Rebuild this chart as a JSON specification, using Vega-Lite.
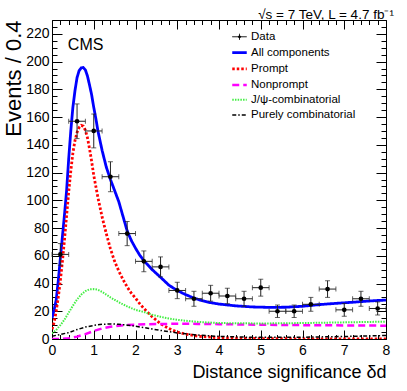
{
  "$schema": "https://vega.github.io/schema/vega-lite/v6.json",
  "width": 334,
  "height": 319,
  "autosize": "none",
  "padding": {"left": 52, "top": 20, "right": 21, "bottom": 52},
  "background": "white",
  "config": {
    "view": {"stroke": "black", "strokeWidth": 1},
    "font": "Liberation Sans",
    "axis": {"grid": false, "domain": false, "tickColor": "black", "tickWidth": 1, "labelFont": "Liberation Sans", "labelFontSize": 14, "labelColor": "black", "titleFont": "Liberation Sans", "titleFontWeight": "normal", "titleColor": "black", "labelOverlap": false, "labelFlush": false, "labelBound": false}
  },
  "title": {"text": "√s = 7 TeV, L = 4.7 fb⁻¹", "anchor": "end", "fontSize": 13.5, "fontWeight": "normal", "font": "Liberation Sans", "offset": 0, "dy": 8, "dx": 4, "color": "black"},
  "datasets": {
    "points": [
      {"x": 0.2, "xlo": 0.0, "xhi": 0.4, "n": 61, "lo": 53.2, "hi": 68.8},
      {"x": 0.6, "xlo": 0.4, "xhi": 0.8, "n": 157, "lo": 144.5, "hi": 169.5},
      {"x": 1.0, "xlo": 0.8, "xhi": 1.2, "n": 150, "lo": 137.8, "hi": 162.2},
      {"x": 1.4, "xlo": 1.2, "xhi": 1.6, "n": 117, "lo": 106.2, "hi": 127.8},
      {"x": 1.8, "xlo": 1.6, "xhi": 2.0, "n": 76, "lo": 67.3, "hi": 84.7},
      {"x": 2.2, "xlo": 2.0, "xhi": 2.4, "n": 56, "lo": 48.5, "hi": 63.5},
      {"x": 2.6, "xlo": 2.4, "xhi": 2.8, "n": 52, "lo": 44.8, "hi": 59.2},
      {"x": 3.0, "xlo": 2.8, "xhi": 3.2, "n": 35, "lo": 29.1, "hi": 40.9},
      {"x": 3.4, "xlo": 3.2, "xhi": 3.6, "n": 29, "lo": 23.6, "hi": 34.4},
      {"x": 3.8, "xlo": 3.6, "xhi": 4.0, "n": 33, "lo": 27.3, "hi": 38.7},
      {"x": 4.2, "xlo": 4.0, "xhi": 4.4, "n": 31, "lo": 25.4, "hi": 36.6},
      {"x": 4.6, "xlo": 4.4, "xhi": 4.8, "n": 29, "lo": 23.6, "hi": 34.4},
      {"x": 5.0, "xlo": 4.8, "xhi": 5.2, "n": 37, "lo": 30.9, "hi": 43.1},
      {"x": 5.4, "xlo": 5.2, "xhi": 5.6, "n": 20, "lo": 15.5, "hi": 24.5},
      {"x": 5.8, "xlo": 5.6, "xhi": 6.0, "n": 20, "lo": 15.5, "hi": 24.5},
      {"x": 6.2, "xlo": 6.0, "xhi": 6.4, "n": 25, "lo": 20.0, "hi": 30.0},
      {"x": 6.6, "xlo": 6.4, "xhi": 6.8, "n": 36, "lo": 30.0, "hi": 42.0},
      {"x": 7.0, "xlo": 6.8, "xhi": 7.2, "n": 21, "lo": 16.4, "hi": 25.6},
      {"x": 7.4, "xlo": 7.2, "xhi": 7.6, "n": 29, "lo": 23.6, "hi": 34.4},
      {"x": 7.8, "xlo": 7.6, "xhi": 8.0, "n": 22, "lo": 17.3, "hi": 26.7}
    ],
    "curves": [
      {"series": "All components", "x": 0, "y": 15}, {"series": "All components", "x": 0.05, "y": 21}, {"series": "All components", "x": 0.1, "y": 28}, {"series": "All components", "x": 0.15, "y": 42}, {"series": "All components", "x": 0.2, "y": 58}, {"series": "All components", "x": 0.25, "y": 74}, {"series": "All components", "x": 0.3, "y": 90}, {"series": "All components", "x": 0.35, "y": 107}, {"series": "All components", "x": 0.4, "y": 130}, {"series": "All components", "x": 0.45, "y": 150}, {"series": "All components", "x": 0.5, "y": 167}, {"series": "All components", "x": 0.55, "y": 179}, {"series": "All components", "x": 0.6, "y": 188.5}, {"series": "All components", "x": 0.65, "y": 193.5}, {"series": "All components", "x": 0.7, "y": 195.5}, {"series": "All components", "x": 0.75, "y": 195.7}, {"series": "All components", "x": 0.8, "y": 194}, {"series": "All components", "x": 0.85, "y": 189.5}, {"series": "All components", "x": 0.9, "y": 183}, {"series": "All components", "x": 0.95, "y": 176}, {"series": "All components", "x": 1.0, "y": 167}, {"series": "All components", "x": 1.05, "y": 159}, {"series": "All components", "x": 1.1, "y": 150}, {"series": "All components", "x": 1.2, "y": 136}, {"series": "All components", "x": 1.3, "y": 124}, {"series": "All components", "x": 1.4, "y": 115}, {"series": "All components", "x": 1.5, "y": 107}, {"series": "All components", "x": 1.6, "y": 99}, {"series": "All components", "x": 1.7, "y": 88.5}, {"series": "All components", "x": 1.8, "y": 78}, {"series": "All components", "x": 1.9, "y": 71}, {"series": "All components", "x": 2.0, "y": 65.5}, {"series": "All components", "x": 2.1, "y": 60.5}, {"series": "All components", "x": 2.2, "y": 56.5}, {"series": "All components", "x": 2.4, "y": 50}, {"series": "All components", "x": 2.6, "y": 44.5}, {"series": "All components", "x": 2.8, "y": 38.8}, {"series": "All components", "x": 3.0, "y": 35}, {"series": "All components", "x": 3.2, "y": 32}, {"series": "All components", "x": 3.4, "y": 29.5}, {"series": "All components", "x": 3.6, "y": 27.6}, {"series": "All components", "x": 3.8, "y": 26.2}, {"series": "All components", "x": 4.0, "y": 25.2}, {"series": "All components", "x": 4.4, "y": 23.9}, {"series": "All components", "x": 4.8, "y": 23.1}, {"series": "All components", "x": 5.2, "y": 22.8}, {"series": "All components", "x": 5.6, "y": 22.9}, {"series": "All components", "x": 6.0, "y": 23.6}, {"series": "All components", "x": 6.4, "y": 24.8}, {"series": "All components", "x": 6.8, "y": 25.7}, {"series": "All components", "x": 7.2, "y": 26.5}, {"series": "All components", "x": 7.6, "y": 27.4}, {"series": "All components", "x": 8.0, "y": 28.1},
      {"series": "Prompt", "x": 0, "y": 7}, {"series": "Prompt", "x": 0.05, "y": 12}, {"series": "Prompt", "x": 0.1, "y": 20}, {"series": "Prompt", "x": 0.15, "y": 30}, {"series": "Prompt", "x": 0.2, "y": 42}, {"series": "Prompt", "x": 0.25, "y": 56}, {"series": "Prompt", "x": 0.3, "y": 72}, {"series": "Prompt", "x": 0.35, "y": 89}, {"series": "Prompt", "x": 0.4, "y": 106}, {"series": "Prompt", "x": 0.45, "y": 121}, {"series": "Prompt", "x": 0.5, "y": 134}, {"series": "Prompt", "x": 0.55, "y": 143}, {"series": "Prompt", "x": 0.6, "y": 149}, {"series": "Prompt", "x": 0.65, "y": 152.5}, {"series": "Prompt", "x": 0.7, "y": 154}, {"series": "Prompt", "x": 0.75, "y": 153.5}, {"series": "Prompt", "x": 0.8, "y": 150.5}, {"series": "Prompt", "x": 0.85, "y": 145}, {"series": "Prompt", "x": 0.9, "y": 137}, {"series": "Prompt", "x": 0.95, "y": 128}, {"series": "Prompt", "x": 1.0, "y": 118}, {"series": "Prompt", "x": 1.05, "y": 110}, {"series": "Prompt", "x": 1.1, "y": 102}, {"series": "Prompt", "x": 1.2, "y": 88}, {"series": "Prompt", "x": 1.3, "y": 76}, {"series": "Prompt", "x": 1.4, "y": 65}, {"series": "Prompt", "x": 1.5, "y": 56}, {"series": "Prompt", "x": 1.6, "y": 49}, {"series": "Prompt", "x": 1.7, "y": 43}, {"series": "Prompt", "x": 1.8, "y": 37.5}, {"series": "Prompt", "x": 1.9, "y": 33}, {"series": "Prompt", "x": 2.0, "y": 29.5}, {"series": "Prompt", "x": 2.1, "y": 25.5}, {"series": "Prompt", "x": 2.2, "y": 22}, {"series": "Prompt", "x": 2.3, "y": 19}, {"series": "Prompt", "x": 2.4, "y": 16}, {"series": "Prompt", "x": 2.5, "y": 13.5}, {"series": "Prompt", "x": 2.6, "y": 11}, {"series": "Prompt", "x": 2.7, "y": 9.2}, {"series": "Prompt", "x": 2.8, "y": 7.6}, {"series": "Prompt", "x": 2.9, "y": 6.2}, {"series": "Prompt", "x": 3.0, "y": 5}, {"series": "Prompt", "x": 3.2, "y": 3.5}, {"series": "Prompt", "x": 3.5, "y": 2}, {"series": "Prompt", "x": 4.0, "y": 0.9}, {"series": "Prompt", "x": 4.5, "y": 0.5}, {"series": "Prompt", "x": 5.0, "y": 0.3}, {"series": "Prompt", "x": 6.0, "y": 0.1}, {"series": "Prompt", "x": 7.0, "y": 0.05}, {"series": "Prompt", "x": 8.0, "y": 0},
      {"series": "Nonprompt", "x": 0, "y": 0}, {"series": "Nonprompt", "x": 0.2, "y": 0.1}, {"series": "Nonprompt", "x": 0.4, "y": 0.6}, {"series": "Nonprompt", "x": 0.6, "y": 1.7}, {"series": "Nonprompt", "x": 0.8, "y": 3.5}, {"series": "Nonprompt", "x": 1.0, "y": 5.8}, {"series": "Nonprompt", "x": 1.2, "y": 7.6}, {"series": "Nonprompt", "x": 1.4, "y": 8.8}, {"series": "Nonprompt", "x": 1.6, "y": 9.6}, {"series": "Nonprompt", "x": 1.8, "y": 10.1}, {"series": "Nonprompt", "x": 2.0, "y": 10.4}, {"series": "Nonprompt", "x": 2.5, "y": 10.8}, {"series": "Nonprompt", "x": 3.0, "y": 11}, {"series": "Nonprompt", "x": 3.5, "y": 10.9}, {"series": "Nonprompt", "x": 4.0, "y": 10.7}, {"series": "Nonprompt", "x": 5.0, "y": 10.3}, {"series": "Nonprompt", "x": 6.0, "y": 10}, {"series": "Nonprompt", "x": 7.0, "y": 9.8}, {"series": "Nonprompt", "x": 8.0, "y": 9.6},
      {"series": "J/ψ-combinatorial", "x": 0, "y": 4}, {"series": "J/ψ-combinatorial", "x": 0.1, "y": 6.5}, {"series": "J/ψ-combinatorial", "x": 0.2, "y": 10}, {"series": "J/ψ-combinatorial", "x": 0.3, "y": 14}, {"series": "J/ψ-combinatorial", "x": 0.4, "y": 19}, {"series": "J/ψ-combinatorial", "x": 0.5, "y": 24}, {"series": "J/ψ-combinatorial", "x": 0.6, "y": 28.5}, {"series": "J/ψ-combinatorial", "x": 0.7, "y": 32}, {"series": "J/ψ-combinatorial", "x": 0.8, "y": 34.5}, {"series": "J/ψ-combinatorial", "x": 0.9, "y": 35.8}, {"series": "J/ψ-combinatorial", "x": 1.0, "y": 36}, {"series": "J/ψ-combinatorial", "x": 1.1, "y": 35.5}, {"series": "J/ψ-combinatorial", "x": 1.2, "y": 34}, {"series": "J/ψ-combinatorial", "x": 1.3, "y": 32}, {"series": "J/ψ-combinatorial", "x": 1.4, "y": 30}, {"series": "J/ψ-combinatorial", "x": 1.6, "y": 26.5}, {"series": "J/ψ-combinatorial", "x": 1.8, "y": 23.5}, {"series": "J/ψ-combinatorial", "x": 2.0, "y": 21}, {"series": "J/ψ-combinatorial", "x": 2.2, "y": 19.5}, {"series": "J/ψ-combinatorial", "x": 2.4, "y": 17.5}, {"series": "J/ψ-combinatorial", "x": 2.6, "y": 16}, {"series": "J/ψ-combinatorial", "x": 2.8, "y": 14.8}, {"series": "J/ψ-combinatorial", "x": 3.0, "y": 13.8}, {"series": "J/ψ-combinatorial", "x": 3.5, "y": 12.3}, {"series": "J/ψ-combinatorial", "x": 4.0, "y": 11.5}, {"series": "J/ψ-combinatorial", "x": 5.0, "y": 11.2}, {"series": "J/ψ-combinatorial", "x": 6.0, "y": 11.5}, {"series": "J/ψ-combinatorial", "x": 7.0, "y": 12}, {"series": "J/ψ-combinatorial", "x": 8.0, "y": 12.5},
      {"series": "Purely combinatorial", "x": 0, "y": 2}, {"series": "Purely combinatorial", "x": 0.2, "y": 3.3}, {"series": "Purely combinatorial", "x": 0.4, "y": 4.6}, {"series": "Purely combinatorial", "x": 0.6, "y": 6.8}, {"series": "Purely combinatorial", "x": 0.8, "y": 8.6}, {"series": "Purely combinatorial", "x": 1.0, "y": 9.8}, {"series": "Purely combinatorial", "x": 1.2, "y": 10.6}, {"series": "Purely combinatorial", "x": 1.4, "y": 10.9}, {"series": "Purely combinatorial", "x": 1.6, "y": 10.6}, {"series": "Purely combinatorial", "x": 1.8, "y": 10}, {"series": "Purely combinatorial", "x": 2.0, "y": 9.2}, {"series": "Purely combinatorial", "x": 2.2, "y": 8.2}, {"series": "Purely combinatorial", "x": 2.4, "y": 7.2}, {"series": "Purely combinatorial", "x": 2.6, "y": 6.2}, {"series": "Purely combinatorial", "x": 2.8, "y": 5.3}, {"series": "Purely combinatorial", "x": 3.0, "y": 4.4}, {"series": "Purely combinatorial", "x": 3.2, "y": 3.7}, {"series": "Purely combinatorial", "x": 3.5, "y": 2.8}, {"series": "Purely combinatorial", "x": 4.0, "y": 1.9}, {"series": "Purely combinatorial", "x": 4.5, "y": 1.4}, {"series": "Purely combinatorial", "x": 5.0, "y": 1.2}, {"series": "Purely combinatorial", "x": 6.0, "y": 1.3}, {"series": "Purely combinatorial", "x": 7.0, "y": 1.8}, {"series": "Purely combinatorial", "x": 8.0, "y": 2.5}
    ]
  },
  "resolve": {"axis": {"x": "independent", "y": "independent"}},
  "layer": [
    {
      "data": {"name": "curves"},
      "mark": {"type": "line", "clip": true, "strokeCap": "butt"},
      "encoding": {
        "x": {"field": "x", "type": "quantitative", "scale": {"domain": [0, 8], "nice": false, "zero": false},
          "axis": {"orient": "bottom", "values": [0,0.2,0.4,0.6,0.8,1,1.2,1.4,1.6,1.8,2,2.2,2.4,2.6,2.8,3,3.2,3.4,3.6,3.8,4,4.2,4.4,4.6,4.8,5,5.2,5.4,5.6,5.8,6,6.2,6.4,6.6,6.8,7,7.2,7.4,7.6,7.8,8],
            "labelExpr": "abs(datum.value - round(datum.value)) < 0.01 ? format(datum.value, 'd') : ''",
            "tickSize": {"condition": {"test": "abs(datum.value - round(datum.value)) < 0.01", "value": -9}, "value": -4.5},
            "labelPadding": 13, "title": "Distance significance δd", "titleFontSize": 18, "titleAnchor": "end", "titleAlign": "right", "titleBaseline": "alphabetic", "titleX": 334, "titleY": 38}},
        "y": {"field": "y", "type": "quantitative", "scale": {"domain": [0, 230], "nice": false, "zero": true},
          "axis": {"orient": "left", "values": [0,5,10,15,20,25,30,35,40,45,50,55,60,65,70,75,80,85,90,95,100,105,110,115,120,125,130,135,140,145,150,155,160,165,170,175,180,185,190,195,200,205,210,215,220,225,230],
            "labelExpr": "datum.value % 20 === 0 ? format(datum.value, 'd') : ''",
            "tickSize": {"condition": {"test": "datum.value % 20 === 0", "value": -10}, "value": -5},
            "labelPadding": 13, "title": "Events / 0.4", "titleFontSize": 22, "titleAngle": -90, "titleAlign": "right", "titleBaseline": "alphabetic", "titleX": -32, "titleY": 0}},
        "color": {"field": "series", "type": "nominal",
          "scale": {"domain": ["Data", "All components", "Prompt", "Nonprompt", "J/ψ-combinatorial", "Purely combinatorial"], "range": ["#000000", "#0000ff", "#ff0000", "#ff00ff", "#44ee44", "#000000"]},
          "legend": {"title": null, "orient": "none", "legendX": 181, "legendY": 11, "padding": 0, "labelFontSize": 11.5, "labelFont": "Liberation Sans", "labelColor": "black", "labelOffset": 5, "rowPadding": 3.2, "symbolSize": 100, "symbolStrokeWidth": 2,
            "encode": {"symbols": {"update": {
              "shape": {"signal": "datum.value === 'Data' ? 'M-1.45,0H1.45M0,-0.6V0.6M-0.22,0A0.22,0.22 0 1,0 0.22,0A0.22,0.22 0 1,0 -0.22,0Z' : 'M-1.45,0H1.45'"},
              "fill": {"signal": "datum.value === 'Data' ? 'black' : 'transparent'"},
              "strokeWidth": {"signal": "datum.value === 'Data' ? 1 : (datum.value === 'Purely combinatorial' ? 1.5 : 2)"}
            }}}}},
        "strokeDash": {"field": "series", "type": "nominal",
          "scale": {"domain": ["Data", "All components", "Prompt", "Nonprompt", "J/ψ-combinatorial", "Purely combinatorial"], "range": [[1, 0], [1, 0], [2.5, 2], [7, 4], [1.5, 1.2], [4, 2, 1.5, 2]]}},
        "strokeWidth": {"field": "series", "type": "nominal", "legend": null,
          "scale": {"type": "ordinal", "domain": ["Data", "All components", "Prompt", "Nonprompt", "J/ψ-combinatorial", "Purely combinatorial"], "range": [1, 2.8, 2.8, 2.5, 2, 1.5]}},
        "order": {"field": "x", "type": "quantitative"}
      }
    },
    {
      "data": {"name": "points"},
      "mark": {"type": "rule", "color": "#222222", "strokeWidth": 1},
      "encoding": {
        "x": {"field": "xlo", "type": "quantitative", "axis": null, "scale": {"domain": [0, 8], "nice": false, "zero": false}},
        "x2": {"field": "xhi"},
        "y": {"field": "n", "type": "quantitative", "axis": null, "scale": {"domain": [0, 230], "nice": false, "zero": true}}
      }
    },
    {
      "data": {"name": "points"},
      "mark": {"type": "rule", "color": "#222222", "strokeWidth": 1},
      "encoding": {
        "x": {"field": "x", "type": "quantitative", "axis": null},
        "y": {"field": "lo", "type": "quantitative", "axis": null},
        "y2": {"field": "hi"}
      }
    },
    {
      "data": {"name": "points"},
      "mark": {"type": "tick", "orient": "horizontal", "color": "#222222", "size": 5, "thickness": 1},
      "encoding": {
        "x": {"field": "x", "type": "quantitative", "axis": null},
        "y": {"field": "lo", "type": "quantitative", "axis": null}
      }
    },
    {
      "data": {"name": "points"},
      "mark": {"type": "tick", "orient": "horizontal", "color": "#222222", "size": 5, "thickness": 1},
      "encoding": {
        "x": {"field": "x", "type": "quantitative", "axis": null},
        "y": {"field": "hi", "type": "quantitative", "axis": null}
      }
    },
    {
      "data": {"name": "points"},
      "mark": {"type": "tick", "orient": "vertical", "color": "#222222", "size": 5, "thickness": 1},
      "encoding": {
        "x": {"field": "xlo", "type": "quantitative", "axis": null},
        "y": {"field": "n", "type": "quantitative", "axis": null}
      }
    },
    {
      "data": {"name": "points"},
      "mark": {"type": "tick", "orient": "vertical", "color": "#222222", "size": 5, "thickness": 1},
      "encoding": {
        "x": {"field": "xhi", "type": "quantitative", "axis": null},
        "y": {"field": "n", "type": "quantitative", "axis": null}
      }
    },
    {
      "data": {"name": "points"},
      "mark": {"type": "circle", "color": "black", "size": 22, "opacity": 1},
      "encoding": {
        "x": {"field": "x", "type": "quantitative", "axis": null},
        "y": {"field": "n", "type": "quantitative", "axis": null}
      }
    },
    {
      "data": {"name": "points"},
      "mark": {"type": "point", "opacity": 0},
      "encoding": {
        "x": {"field": "x", "type": "quantitative",
          "axis": {"orient": "top", "labels": false, "title": null, "values": [0,0.2,0.4,0.6,0.8,1,1.2,1.4,1.6,1.8,2,2.2,2.4,2.6,2.8,3,3.2,3.4,3.6,3.8,4,4.2,4.4,4.6,4.8,5,5.2,5.4,5.6,5.8,6,6.2,6.4,6.6,6.8,7,7.2,7.4,7.6,7.8,8],
            "tickSize": {"condition": {"test": "abs(datum.value - round(datum.value)) < 0.01", "value": -9}, "value": -4.5}}},
        "y": {"field": "n", "type": "quantitative",
          "axis": {"orient": "right", "labels": false, "title": null, "values": [0,5,10,15,20,25,30,35,40,45,50,55,60,65,70,75,80,85,90,95,100,105,110,115,120,125,130,135,140,145,150,155,160,165,170,175,180,185,190,195,200,205,210,215,220,225,230],
            "tickSize": {"condition": {"test": "datum.value % 20 === 0", "value": -10}, "value": -5}}}
      }
    },
    {
      "data": {"values": [{"label": "CMS"}]},
      "mark": {"type": "text", "font": "Liberation Sans", "fontSize": 16, "align": "left", "baseline": "alphabetic", "color": "black"},
      "encoding": {
        "text": {"field": "label"},
        "x": {"datum": 0.38, "type": "quantitative", "axis": null},
        "y": {"datum": 208.5, "type": "quantitative", "axis": null}
      }
    }
  ]
}
